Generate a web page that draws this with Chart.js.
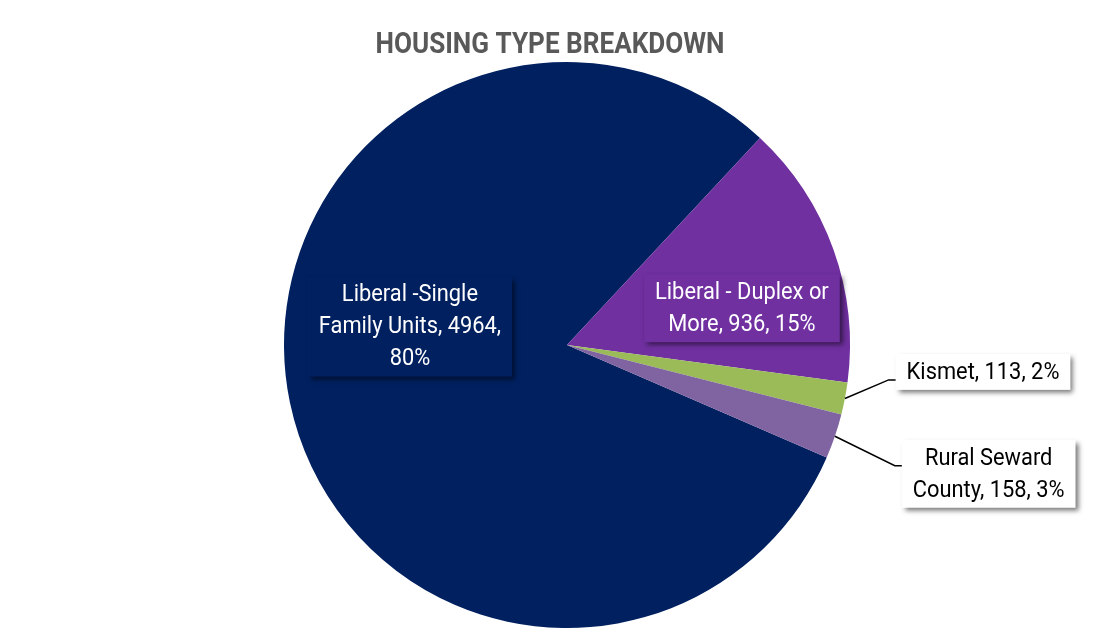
<!DOCTYPE html>
<html>
<head>
<meta charset="utf-8">
<script src="https://cdn.jsdelivr.net/npm/chart.js@4.4.1/dist/chart.umd.min.js"></script>
<style>
  html, body { margin: 0; padding: 0; background: #ffffff; }
  #wrap { width: 1113px; height: 639px; position: relative; }
</style>
</head>
<body>
<div id="wrap"><canvas id="pieChart" width="1113" height="639"></canvas></div>
<script>
// ------------------------
// DATA
// ------------------------
const categories = [
  "Liberal -Single Family Units",
  "Liberal - Duplex or More",
  "Kismet",
  "Rural Seward County"
];
const units = [4964, 936, 113, 158];
const percents = [80, 15, 2, 3];
const chartTitle = "HOUSING TYPE BREAKDOWN";

// label text, wrapped the way it is shown
const labelLines = [
  ["Liberal -Single", "Family Units, 4964,", "80%"],
  ["Liberal - Duplex or", "More, 936, 15%"],
  ["Kismet, 113, 2%"],
  ["Rural Seward", "County, 158, 3%"]
];

// ------------------------
// STYLE
// ------------------------
const sliceColors = ["#002060", "#7030A0", "#9BBB59", "#8064A2"];
const FONT = "Roboto, 'Open Sans', sans-serif";
const SQUEEZE = 0.93;       // narrow the glyphs a bit, condensed look
const TITLE_SQUEEZE = 0.9;

// label centres relative to pie centre, in radius units
const labelPos = [
  { dx: -0.555, dy: -0.065, fill: "#002060", color: "#ffffff", callout: false },
  { dx: 0.618, dy: -0.13, fill: "#7030A0", color: "#ffffff", callout: false },
  { dx: 1.47, dy: 0.095, fill: "#ffffff", color: "#000000", callout: true },
  { dx: 1.49, dy: 0.455, fill: "#ffffff", color: "#000000", callout: true }
];

function drawSqueezed(ctx, s, x, y, k) {
  ctx.save();
  ctx.translate(x, y);
  ctx.scale(k, 1);
  ctx.fillText(s, 0, 0);
  ctx.restore();
}

// ------------------------
// TITLE + DATA LABELS
// ------------------------
const labelPlugin = {
  id: "housingLabels",
  afterDatasetsDraw(chart) {
    const ctx = chart.ctx;
    const meta = chart.getDatasetMeta(0);
    const arc0 = meta.data[0];
    const cx = arc0.x, cy = arc0.y, r = arc0.outerRadius;

    // title
    ctx.save();
    ctx.font = "bold 29px " + FONT;
    ctx.fillStyle = "#595959";
    ctx.textAlign = "center";
    ctx.textBaseline = "alphabetic";
    drawSqueezed(ctx, chartTitle, 550, 53, TITLE_SQUEEZE);
    ctx.restore();

    const lineH = 32;
    const padX = 11;
    const padY = 2;

    meta.data.forEach((arc, i) => {
      const pos = labelPos[i];
      const lines = labelLines[i];
      const lx = cx + pos.dx * r;
      const ly = cy + pos.dy * r;

      ctx.save();
      ctx.font = "23.5px " + FONT;
      const w = Math.max(...lines.map(s => ctx.measureText(s).width * SQUEEZE)) + padX * 2;
      const h = lines.length * lineH + padY * 2;
      const bx = lx - w / 2;
      const by = ly - h / 2;

      // leader line from the slice edge
      if (pos.callout) {
        const mid = (arc.startAngle + arc.endAngle) / 2;
        const sx = cx + Math.cos(mid) * r;
        const sy = cy + Math.sin(mid) * r;
        const ey = by + padY + lineH * 0.5 + 8;
        ctx.strokeStyle = "#000000";
        ctx.lineWidth = 1.5;
        ctx.beginPath();
        ctx.moveTo(sx, sy);
        ctx.lineTo(bx - 7, ey);
        ctx.lineTo(bx + 3, ey);
        ctx.stroke();
      }

      // box with soft shadow
      ctx.shadowColor = "rgba(0,0,0,0.55)";
      ctx.shadowBlur = 5;
      ctx.shadowOffsetX = 3;
      ctx.shadowOffsetY = 3;
      ctx.fillStyle = pos.fill;
      ctx.fillRect(bx, by, w, h);
      ctx.shadowColor = "transparent";

      ctx.fillStyle = pos.color;
      ctx.textAlign = "center";
      ctx.textBaseline = "middle";
      lines.forEach((s, k) => {
        drawSqueezed(ctx, s, lx, by + padY + lineH * (k + 0.5) + 1, SQUEEZE);
      });
      ctx.restore();
    });
  }
};

// ------------------------
// CHART
// ------------------------
const total = units.reduce((a, b) => a + b, 0);

const ctx = document.getElementById("pieChart").getContext("2d");

new Chart(ctx, {
  type: "pie",
  data: {
    labels: categories,
    datasets: [{
      data: units,
      backgroundColor: sliceColors,
      borderWidth: 0
    }]
  },
  options: {
    responsive: false,
    animation: false,
    // first slice ends 43 deg clockwise from twelve o'clock
    rotation: 43 - 360 * units[0] / total,
    layout: {
      padding: { top: 62, bottom: 11, left: 200, right: 179 }
    },
    plugins: {
      legend: { display: false },
      title: { display: false },
      tooltip: { enabled: false }
    }
  },
  plugins: [labelPlugin]
});
</script>
</body>
</html>
